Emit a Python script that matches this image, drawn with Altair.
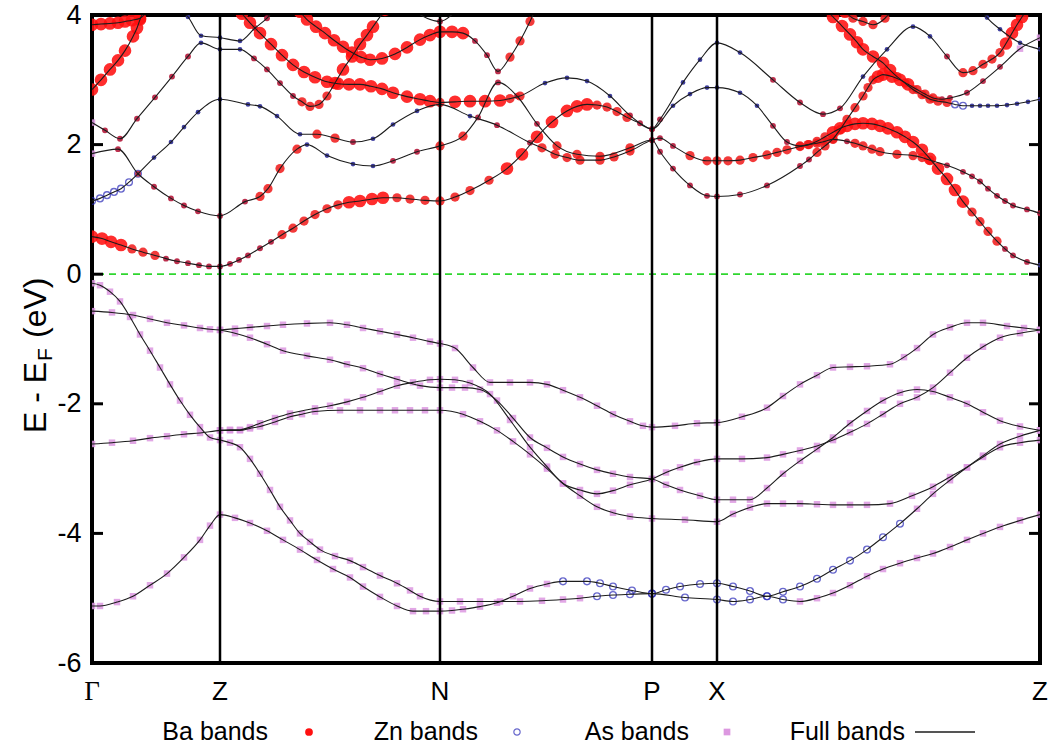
import altair as alt
import pandas as pd

# ---------------- data ----------------
K_POINTS = [0.0, 1.28, 3.48, 5.60, 6.25, 9.48]
K_LABELS = ["Γ", "Z", "N", "P", "X", "Z"]
K_INNER = [1.28, 3.48, 5.60, 6.25]
E_TICKS = [-6, -4, -2, 0, 2, 4]
LEGEND_NAMES = ["Ba bands", "Zn bands", "As bands", "Full bands"]

# each point: (k, E in eV, marker code)
# codes: L big Ba, B medium Ba, b small Ba, Z open Zn circle, z small Zn dot, A As square
VA = [(0.00,-0.14,"A"),(0.08,-0.17,"A"),(0.18,-0.27,"A"),(0.28,-0.42,"A"),(0.38,-0.66,"A"),
      (0.48,-0.93,"A"),(0.58,-1.18,"A"),(0.68,-1.44,"A"),(0.78,-1.70,"A"),(0.88,-1.95,"A"),
      (0.98,-2.17,"A"),(1.08,-2.36,"A"),(1.18,-2.52,"A"),(1.28,-2.56,"A"),(1.38,-2.60,"A"),
      (1.48,-2.67,"A"),(1.58,-2.85,"A"),(1.68,-3.08,"A"),(1.78,-3.33,"A"),(1.88,-3.59,"A"),
      (1.98,-3.80,"A"),(2.08,-4.00,"A"),(2.18,-4.13,"A"),(2.28,-4.25,"A"),(2.43,-4.35,"A"),
      (2.58,-4.42,"A"),(2.71,-4.52,"A"),(2.88,-4.65,"A"),(3.05,-4.77,"A"),(3.18,-4.88,"A"),
      (3.28,-4.97,"A"),(3.48,-5.05,"A"),(3.68,-5.05,"A"),(3.88,-5.05,"A"),(4.08,-5.05,"A"),
      (4.28,-5.05,"A"),(4.50,-5.04,"A"),(4.71,-5.02,"A"),(4.88,-5.00,"A"),(5.05,-4.97,"Z"),
      (5.21,-4.95,"Z"),(5.38,-4.94,"Z"),(5.60,-4.93,"Z"),(5.93,-4.99,"Z"),(6.25,-5.02,"Z"),
      (6.41,-5.05,"Z"),(6.58,-5.02,"Z"),(6.75,-4.97,"Z"),(6.91,-5.02,"Z"),(7.08,-5.05,"A"),
      (7.25,-5.00,"A"),(7.41,-4.92,"A"),(7.58,-4.80,"A"),(7.75,-4.66,"A"),(7.91,-4.55,"A"),
      (8.08,-4.46,"A"),(8.25,-4.38,"A"),(8.41,-4.31,"A"),(8.58,-4.21,"A"),(8.75,-4.10,"A"),
      (8.91,-4.00,"A"),(9.08,-3.90,"A"),(9.28,-3.80,"A"),(9.48,-3.71,"A")]
VD = [(0.00,-5.12,"A"),(0.08,-5.12,"A"),(0.25,-5.06,"A"),(0.41,-4.97,"A"),(0.58,-4.80,"A"),
      (0.75,-4.62,"A"),(0.92,-4.37,"A"),(1.08,-4.10,"A"),(1.18,-3.88,"A"),(1.28,-3.71,"A"),
      (1.43,-3.76,"A"),(1.58,-3.84,"A"),(1.75,-3.96,"A"),(1.91,-4.10,"A"),(2.08,-4.25,"A"),
      (2.25,-4.41,"A"),(2.41,-4.55,"A"),(2.58,-4.68,"A"),(2.71,-4.82,"A"),(2.88,-4.98,"A"),
      (3.05,-5.12,"A"),(3.21,-5.20,"A"),(3.34,-5.20,"A"),(3.48,-5.20,"A"),(3.60,-5.19,"A"),
      (3.71,-5.17,"A"),(3.88,-5.13,"A"),(4.05,-5.07,"A"),(4.21,-4.97,"A"),(4.38,-4.85,"A"),
      (4.55,-4.78,"A"),(4.71,-4.74,"Z"),(4.95,-4.74,"Z"),(5.08,-4.77,"Z"),(5.21,-4.82,"Z"),
      (5.40,-4.88,"Z"),(5.60,-4.93,"Z"),(5.74,-4.87,"Z"),(5.88,-4.82,"Z"),(6.08,-4.78,"Z"),
      (6.25,-4.77,"Z"),(6.41,-4.82,"Z"),(6.58,-4.89,"Z"),(6.75,-4.97,"Z"),(6.91,-4.90,"Z"),
      (7.08,-4.82,"Z"),(7.25,-4.70,"Z"),(7.41,-4.56,"Z"),(7.58,-4.42,"Z"),(7.75,-4.25,"Z"),
      (7.91,-4.06,"Z"),(8.08,-3.85,"Z"),(8.25,-3.62,"A"),(8.41,-3.39,"A"),(8.58,-3.18,"A"),
      (8.75,-2.98,"A"),(8.91,-2.80,"A"),(9.08,-2.62,"A"),(9.28,-2.50,"A"),(9.48,-2.41,"A")]
VB1 = [(0.00,-0.57,"A"),(0.20,-0.59,"A"),(0.41,-0.63,"A"),(0.58,-0.69,"A"),(0.75,-0.75,"A"),
       (0.92,-0.79,"A"),(1.08,-0.83,"A"),(1.18,-0.85,"A"),(1.28,-0.86,"A"),(1.43,-0.84,"A"),
       (1.58,-0.82,"A"),(1.75,-0.80,"A"),(1.91,-0.78,"A"),(2.15,-0.76,"A"),(2.38,-0.75,"A"),
       (2.55,-0.78,"A"),(2.71,-0.83,"A"),(2.88,-0.88,"A"),(3.05,-0.93,"A"),(3.21,-0.98,"A"),
       (3.38,-1.04,"A"),(3.48,-1.07,"A"),(3.63,-1.14,"A"),(3.81,-1.44,"A"),(3.98,-1.67,"A"),
       (4.18,-1.67,"A"),(4.38,-1.67,"A"),(4.55,-1.70,"A"),(4.71,-1.79,"A"),(4.88,-1.90,"A"),
       (5.05,-2.03,"A"),(5.21,-2.16,"A"),(5.38,-2.27,"A"),(5.51,-2.34,"A"),(5.60,-2.36,"A"),
       (5.83,-2.34,"A"),(6.05,-2.30,"A"),(6.25,-2.29,"A"),(6.50,-2.20,"A"),(6.75,-2.06,"A"),
       (6.91,-1.88,"A"),(7.08,-1.70,"A"),(7.25,-1.56,"A"),(7.41,-1.44,"A"),(7.58,-1.43,"A"),
       (7.75,-1.42,"A"),(7.98,-1.39,"A"),(8.12,-1.28,"A"),(8.25,-1.14,"A"),(8.41,-0.93,"A"),
       (8.58,-0.82,"A"),(8.75,-0.75,"A"),(8.91,-0.75,"A"),(9.15,-0.80,"A"),(9.32,-0.83,"A"),
       (9.48,-0.86,"A")]
VB2 = [(1.28,-0.86,"A"),(1.43,-0.91,"A"),(1.58,-0.98,"A"),(1.75,-1.08,"A"),(1.91,-1.18,"A"),
       (2.15,-1.26,"A"),(2.38,-1.32,"A"),(2.55,-1.39,"A"),(2.71,-1.45,"A"),(2.88,-1.54,"A"),
       (3.05,-1.62,"A"),(3.28,-1.72,"A"),(3.48,-1.75,"A"),(3.60,-1.75,"A"),(3.73,-1.75,"A"),
       (3.88,-1.78,"A"),(4.05,-1.95,"A"),(4.21,-2.22,"A"),(4.38,-2.52,"A"),(4.55,-2.68,"A"),
       (4.71,-2.82,"A"),(4.88,-2.93,"A"),(5.05,-3.02,"A"),(5.21,-3.08,"A"),(5.38,-3.13,"A"),
       (5.60,-3.16,"A"),(5.74,-3.25,"A"),(5.88,-3.33,"A"),(6.08,-3.42,"A"),(6.25,-3.48,"A"),
       (6.41,-3.48,"A"),(6.58,-3.48,"A"),(6.75,-3.30,"A"),(6.91,-3.08,"A"),(7.08,-2.88,"A"),
       (7.25,-2.70,"A"),(7.41,-2.52,"A"),(7.58,-2.30,"A"),(7.75,-2.11,"A"),(7.91,-1.95,"A"),
       (8.08,-1.83,"A"),(8.25,-1.78,"A"),(8.41,-1.81,"A"),(8.58,-1.90,"A"),(8.75,-2.00,"A"),
       (8.91,-2.13,"A"),(9.08,-2.26,"A"),(9.28,-2.35,"A"),(9.48,-2.41,"A")]
VC1 = [(0.00,-2.62,"A"),(0.20,-2.60,"A"),(0.41,-2.57,"A"),(0.58,-2.53,"A"),(0.75,-2.50,"A"),
       (0.92,-2.47,"A"),(1.08,-2.45,"A"),(1.28,-2.41,"A"),(1.38,-2.40,"A"),(1.48,-2.40,"A"),
       (1.58,-2.36,"A"),(1.68,-2.30,"A"),(1.83,-2.22,"A"),(1.98,-2.15,"A"),(2.23,-2.07,"A"),
       (2.38,-2.03,"A"),(2.55,-1.97,"A"),(2.71,-1.90,"A"),(2.88,-1.81,"A"),(3.05,-1.72,"A"),
       (3.21,-1.67,"A"),(3.38,-1.63,"A"),(3.48,-1.62,"A"),(3.63,-1.63,"A"),(3.78,-1.68,"A"),
       (3.98,-1.85,"A"),(4.18,-2.25,"A"),(4.38,-2.67,"A"),(4.55,-2.97,"A"),(4.71,-3.23,"A"),
       (4.88,-3.33,"A"),(5.05,-3.39,"A"),(5.21,-3.34,"A"),(5.38,-3.25,"A"),(5.60,-3.16,"A"),
       (5.74,-3.06,"A"),(5.88,-2.98,"A"),(6.05,-2.90,"A"),(6.25,-2.85,"A"),(6.50,-2.85,"A"),
       (6.75,-2.83,"A"),(6.91,-2.78,"A"),(7.08,-2.72,"A"),(7.25,-2.65,"A"),(7.41,-2.56,"A"),
       (7.58,-2.44,"A"),(7.75,-2.31,"A"),(7.91,-2.16,"A"),(8.08,-2.00,"A"),(8.25,-1.90,"A"),
       (8.41,-1.75,"A"),(8.58,-1.52,"A"),(8.75,-1.29,"A"),(8.91,-1.12,"A"),(9.08,-0.98,"A"),
       (9.28,-0.91,"A"),(9.48,-0.86,"A")]
VC2 = [(1.28,-2.41,"A"),(1.38,-2.41,"A"),(1.48,-2.41,"A"),(1.58,-2.38,"A"),(1.68,-2.35,"A"),
       (1.83,-2.28,"A"),(1.98,-2.20,"A"),(2.10,-2.16,"A"),(2.23,-2.12,"A"),(2.48,-2.10,"A"),
       (2.68,-2.10,"A"),(2.88,-2.10,"A"),(3.03,-2.10,"A"),(3.18,-2.10,"A"),(3.33,-2.10,"A"),
       (3.48,-2.10,"A"),(3.71,-2.16,"A"),(3.88,-2.27,"A"),(4.05,-2.41,"A"),(4.21,-2.58,"A"),
       (4.38,-2.78,"A"),(4.55,-3.00,"A"),(4.71,-3.23,"A"),(4.88,-3.42,"A"),(5.05,-3.59,"A"),
       (5.21,-3.68,"A"),(5.38,-3.74,"A"),(5.60,-3.77,"A"),(5.93,-3.79,"A"),(6.25,-3.82,"A"),
       (6.41,-3.70,"A"),(6.58,-3.60,"A"),(6.75,-3.54,"A"),(6.91,-3.54,"A"),(7.08,-3.54,"A"),
       (7.25,-3.55,"A"),(7.41,-3.56,"A"),(7.58,-3.56,"A"),(7.75,-3.56,"A"),(7.98,-3.54,"A"),
       (8.20,-3.42,"A"),(8.41,-3.28,"A"),(8.58,-3.13,"A"),(8.75,-2.98,"A"),(8.91,-2.82,"A"),
       (9.08,-2.67,"A"),(9.28,-2.60,"A"),(9.48,-2.56,"A")]

CB1 = [(0.00,0.58,"L"),(0.10,0.55,"L"),(0.19,0.50,"L"),(0.29,0.45,"L"),(0.40,0.39,"B"),
       (0.51,0.34,"B"),(0.63,0.29,"B"),(0.74,0.24,"b"),(0.85,0.20,"b"),(0.96,0.17,"b"),
       (1.07,0.14,"b"),(1.17,0.12,"b"),(1.28,0.12,"b"),(1.38,0.16,"b"),(1.47,0.22,"b"),
       (1.56,0.29,"b"),(1.68,0.40,"b"),(1.79,0.50,"b"),(1.90,0.61,"B"),(2.01,0.71,"B"),
       (2.12,0.82,"B"),(2.23,0.92,"B"),(2.35,1.01,"B"),(2.46,1.07,"B"),(2.57,1.11,"L"),
       (2.68,1.13,"L"),(2.80,1.16,"L"),(2.91,1.18,"L"),(3.05,1.18,"B"),(3.18,1.16,"B"),
       (3.33,1.14,"B"),(3.48,1.13,"B"),(3.63,1.19,"B"),(3.78,1.29,"B"),(3.97,1.45,"B"),
       (4.15,1.63,"L"),(4.30,1.85,"L"),(4.45,2.12,"L"),(4.60,2.35,"L"),(4.75,2.52,"L"),
       (4.85,2.59,"L"),(4.95,2.62,"L"),(5.05,2.61,"B"),(5.15,2.58,"B"),(5.25,2.51,"B"),
       (5.35,2.42,"B"),(5.48,2.33,"b"),(5.60,2.24,"b"),(5.81,2.60,"z"),(5.98,2.78,"z"),
       (6.15,2.88,"z"),(6.25,2.88,"z"),(6.48,2.80,"z"),(6.65,2.60,"z"),(6.81,2.29,"b"),
       (6.95,2.04,"b"),(7.08,1.98,"B"),(7.17,2.00,"B"),(7.25,2.05,"B"),(7.33,2.12,"B"),
       (7.41,2.19,"L"),(7.48,2.25,"L"),(7.55,2.29,"L"),(7.63,2.32,"L"),(7.71,2.33,"L"),
       (7.80,2.32,"L"),(7.88,2.29,"L"),(7.96,2.25,"L"),(8.05,2.19,"L"),(8.13,2.12,"L"),
       (8.21,2.04,"L"),(8.30,1.92,"L"),(8.38,1.78,"L"),(8.46,1.63,"L"),(8.55,1.47,"L"),
       (8.63,1.30,"L"),(8.71,1.12,"L"),(8.80,0.96,"B"),(8.88,0.81,"B"),(8.96,0.66,"B"),
       (9.05,0.51,"B"),(9.13,0.39,"b"),(9.21,0.29,"b"),(9.35,0.19,"b"),(9.48,0.14,"z")]
CB2 = [(0.00,1.86,"A"),(0.26,1.93,"b"),(0.46,1.55,"b"),(0.62,1.35,"b"),(0.79,1.17,"b"),
       (0.92,1.06,"b"),(1.06,0.97,"b"),(1.28,0.90,"b"),(1.53,1.12,"b"),(1.68,1.20,"B"),
       (1.76,1.32,"B"),(1.88,1.63,"B"),(2.05,1.93,"B"),(2.15,2.00,"z"),(2.35,1.83,"z"),
       (2.61,1.70,"z"),(2.81,1.67,"z"),(3.01,1.75,"b"),(3.25,1.89,"b"),(3.48,1.98,"B"),
       (3.71,2.13,"B"),(3.86,2.42,"b"),(4.06,2.96,"b"),(4.25,2.75,"b"),(4.45,2.32,"b"),
       (4.65,1.98,"B"),(4.85,1.85,"B"),(5.08,1.82,"B"),(5.38,1.95,"B"),(5.60,2.07,"b"),
       (5.68,1.89,"b"),(5.81,1.63,"b"),(5.98,1.37,"b"),(6.15,1.21,"b"),(6.25,1.20,"b"),
       (6.48,1.23,"b"),(6.75,1.37,"b"),(7.08,1.67,"b"),(7.17,1.77,"b"),(7.25,1.88,"B"),
       (7.33,1.98,"B"),(7.41,2.09,"B"),(7.48,2.23,"B"),(7.55,2.39,"B"),(7.63,2.57,"B"),
       (7.71,2.75,"B"),(7.76,2.88,"B"),(7.81,3.00,"B"),(7.86,3.05,"L"),(7.91,3.08,"L"),
       (8.00,3.05,"L"),(8.08,3.00,"L"),(8.16,2.93,"L"),(8.25,2.85,"B"),(8.33,2.78,"B"),
       (8.41,2.72,"B"),(8.50,2.70,"b"),(8.58,2.72,"b"),(8.75,2.80,"b"),(8.91,2.98,"b"),
       (9.08,3.20,"b"),(9.28,3.48,"A"),(9.48,3.65,"A")]
CB3 = [(0.00,1.13,"Z"),(0.08,1.17,"Z"),(0.15,1.22,"Z"),(0.22,1.27,"Z"),(0.29,1.32,"Z"),
       (0.37,1.42,"Z"),(0.46,1.55,"Z"),(0.62,1.80,"z"),(0.79,2.04,"z"),(0.92,2.27,"z"),
       (1.06,2.50,"z"),(1.28,2.70,"z"),(1.56,2.62,"z"),(1.68,2.59,"z"),(1.85,2.44,"z"),
       (2.08,2.16,"z"),(2.25,2.16,"B"),(2.43,2.10,"B"),(2.61,2.04,"b"),(2.81,2.09,"z"),
       (3.01,2.31,"z"),(3.25,2.52,"z"),(3.48,2.62,"z"),(3.78,2.44,"z"),(4.05,2.30,"b"),
       (4.38,2.03,"b"),(4.50,1.95,"B"),(4.63,1.85,"B"),(4.75,1.80,"B"),(4.88,1.76,"B"),
       (5.08,1.76,"B"),(5.22,1.81,"B"),(5.38,1.90,"B"),(5.60,2.07,"b"),(5.68,2.10,"b"),
       (5.81,1.98,"b"),(5.98,1.83,"B"),(6.15,1.75,"B"),(6.25,1.75,"B"),(6.36,1.75,"B"),
       (6.48,1.76,"B"),(6.61,1.80,"B"),(6.75,1.84,"B"),(6.85,1.88,"B"),(6.95,1.92,"B"),
       (7.08,1.97,"B"),(7.16,2.00,"B"),(7.25,2.02,"B"),(7.33,2.05,"B"),(7.41,2.08,"B"),
       (7.55,2.05,"b"),(7.63,2.02,"B"),(7.71,1.98,"B"),(7.80,1.93,"B"),(7.88,1.89,"B"),
       (8.05,1.85,"B"),(8.21,1.83,"B"),(8.30,1.80,"B"),(8.38,1.76,"B"),(8.55,1.68,"b"),
       (8.71,1.58,"b"),(8.80,1.51,"b"),(8.88,1.43,"b"),(8.96,1.32,"b"),(9.05,1.21,"b"),
       (9.13,1.13,"b"),(9.21,1.06,"b"),(9.35,1.00,"b"),(9.48,0.94,"b")]
CB4 = [(0.00,2.34,"A"),(0.13,2.22,"b"),(0.28,2.09,"b"),(0.45,2.40,"b"),(0.63,2.73,"b"),
       (0.80,3.05,"b"),(0.96,3.36,"b"),(1.09,3.57,"z"),(1.28,3.47,"z"),(1.48,3.47,"z"),
       (1.62,3.33,"b"),(1.75,3.16,"b"),(1.88,2.95,"b"),(2.01,2.75,"b"),(2.10,2.66,"B"),
       (2.18,2.59,"B"),(2.27,2.62,"B"),(2.35,2.75,"B"),(2.43,2.95,"L"),(2.51,3.16,"L"),
       (2.60,3.36,"L"),(2.68,3.55,"L"),(2.75,3.69,"L"),(2.81,3.82,"L"),(2.93,4.08,"L")]
CB5 = [(0.00,2.85,"L"),(0.09,3.00,"L"),(0.18,3.16,"L"),(0.26,3.30,"L"),(0.33,3.45,"L"),
       (0.41,3.67,"L"),(0.45,3.80,"L"),(0.48,3.93,"L"),(0.53,4.10,"L")]
CB6 = [(0.00,3.85,"L"),(0.09,3.86,"L"),(0.18,3.87,"L"),(0.26,3.88,"L"),(0.33,3.90,"L"),
       (0.40,3.92,"L"),(0.48,3.95,"L"),(0.58,4.10,"L")]
CB7 = [(0.83,4.15,"z"),(0.96,3.97,"z"),(1.09,3.68,"z"),(1.28,3.65,"z"),(1.48,3.60,"z"),
       (1.63,3.80,"b"),(1.75,3.95,"b"),(1.83,4.10,"b")]
CB8 = [(1.43,4.15,"L"),(1.50,4.02,"L"),(1.58,3.88,"L"),(1.68,3.72,"L"),(1.79,3.55,"L"),
       (1.90,3.38,"L"),(2.01,3.23,"L"),(2.12,3.12,"L"),(2.23,3.04,"L"),(2.35,2.97,"L"),
       (2.46,2.94,"L"),(2.57,2.93,"L"),(2.68,2.93,"L"),(2.79,2.90,"L"),(2.90,2.86,"L"),
       (3.01,2.80,"L"),(3.15,2.74,"L"),(3.28,2.70,"L"),(3.38,2.67,"L"),(3.48,2.65,"B"),
       (3.63,2.66,"L"),(3.78,2.67,"L"),(3.93,2.67,"L"),(4.08,2.68,"L"),(4.18,2.71,"B"),
       (4.28,2.75,"B"),(4.53,2.95,"z"),(4.75,3.03,"z"),(4.95,2.98,"z"),(5.18,2.75,"z"),
       (5.38,2.45,"b"),(5.60,2.24,"b"),(5.68,2.39,"b"),(5.91,2.96,"z"),(6.08,3.31,"z"),
       (6.25,3.57,"z"),(6.48,3.42,"z"),(6.81,3.00,"b"),(7.08,2.65,"b"),(7.31,2.47,"b"),
       (7.48,2.56,"b"),(7.71,3.05,"z"),(7.95,3.47,"z"),(8.21,3.82,"z"),(8.38,3.67,"z"),
       (8.55,3.36,"b"),(8.71,3.11,"B"),(8.81,3.14,"B"),(8.91,3.24,"B"),(9.00,3.32,"B"),
       (9.08,3.42,"B"),(9.14,3.56,"L"),(9.20,3.72,"L"),(9.25,3.85,"L"),(9.30,3.97,"L"),
       (9.38,4.15,"L")]
CB9 = [(2.08,4.05,"L"),(2.15,3.93,"L"),(2.24,3.82,"L"),(2.33,3.72,"L"),(2.42,3.61,"L"),
       (2.51,3.51,"L"),(2.60,3.42,"L"),(2.69,3.35,"L"),(2.78,3.31,"L"),(2.90,3.33,"L"),
       (3.03,3.40,"L"),(3.15,3.50,"L"),(3.28,3.62,"L"),(3.38,3.69,"L"),(3.48,3.74,"L"),
       (3.60,3.74,"L"),(3.71,3.72,"L"),(3.83,3.60,"b"),(3.95,3.38,"b"),(4.06,3.13,"b"),
       (4.18,3.35,"B"),(4.28,3.60,"B"),(4.38,3.90,"B"),(4.44,4.10,"B")]
CB10 = [(7.33,4.10,"L"),(7.41,3.97,"L"),(7.50,3.83,"L"),(7.58,3.70,"L"),(7.65,3.58,"L"),
        (7.71,3.47,"L"),(7.81,3.36,"L"),(7.91,3.26,"L"),(7.98,3.15,"L"),(8.05,3.05,"B"),
        (8.13,2.95,"B"),(8.21,2.85,"B"),(8.30,2.77,"B"),(8.38,2.70,"B"),(8.46,2.67,"B"),
        (8.55,2.65,"B"),(8.63,2.62,"Z"),(8.71,2.60,"Z"),(8.80,2.60,"z"),(8.88,2.60,"z"),
        (8.96,2.60,"z"),(9.05,2.60,"z"),(9.15,2.61,"z"),(9.25,2.63,"z"),(9.36,2.66,"z"),
        (9.48,2.70,"z")]
CB11 = [(8.88,4.10,"z"),(8.95,3.96,"z"),(9.08,3.78,"z"),(9.28,3.57,"z"),(9.48,3.47,"z")]
CB12 = [(7.53,4.05,"L"),(7.61,3.95,"B"),(7.71,3.90,"B"),(7.81,3.85,"B"),(7.93,3.95,"B"),
        (8.01,4.10,"B")]
CB13 = [(3.23,4.05,"b"),(3.48,3.90,"b"),(3.63,4.05,"b")]

BANDS = {"VA": VA, "VD": VD, "VB1": VB1, "VB2": VB2, "VC1": VC1, "VC2": VC2,
         "CB1": CB1, "CB2": CB2, "CB3": CB3, "CB4": CB4, "CB5": CB5, "CB6": CB6,
         "CB7": CB7, "CB8": CB8, "CB9": CB9, "CB10": CB10, "CB11": CB11,
         "CB12": CB12, "CB13": CB13}

rows = []
for name, pts in BANDS.items():
    for i, (k, e, c) in enumerate(sorted(pts, key=lambda p: p[0])):
        rows.append({"band": name, "k": k, "E": e, "code": c, "order": i})
df = pd.DataFrame(rows)

# ---------------- chart ----------------
W, H = 948, 648
FONT = "Liberation Sans"

xs = alt.Scale(domain=[0, 9.48], nice=False, zero=False)
ys = alt.Scale(domain=[-6, 4], nice=False, zero=False)
X = alt.X("k:Q", scale=xs, axis=None)
Y = alt.Y("E:Q", scale=ys, axis=alt.Axis(
    values=E_TICKS, labelFont=FONT, labelFontSize=27, labelColor="black", ticks=False,
    domain=False, grid=False, labelPadding=11, title=None,
    labelExpr="datum.value < 0 ? '-' + (-datum.value) : '' + datum.value"))

base = alt.Chart(df)

marker_styles = {
    "A": dict(mark="square", size=42, color="#dc98e0", opacity=0.85),
    "Z": dict(mark="ring", size=46, color="#2a2ab8", opacity=1.0),
    "z": dict(mark="circle", size=22, color="#35359a", opacity=0.95),
    "b": dict(mark="circle", size=34, color="#b4183a", opacity=0.9),
    "B": dict(mark="circle", size=85, color="#f01818", opacity=0.85),
    "L": dict(mark="circle", size=160, color="#ff1010", opacity=0.88),
}

layers = []

fermi = alt.Chart(pd.DataFrame({"E": [0]})).mark_rule(
    color="#2fd62f", strokeWidth=1.8, strokeDash=[7, 5]).encode(y=Y)
layers.append(fermi)

for code in ["A", "Z", "z", "b", "B", "L"]:
    st = marker_styles[code]
    sub = base.transform_filter(alt.datum.code == code)
    if st["mark"] == "square":
        m = sub.mark_square(size=st["size"], color=st["color"], opacity=st["opacity"], clip=True)
    elif st["mark"] == "ring":
        m = sub.mark_point(shape="circle", filled=False, size=st["size"], color=st["color"],
                           strokeWidth=1.3, clip=True)
    else:
        m = sub.mark_circle(size=st["size"], color=st["color"], opacity=st["opacity"], clip=True)
    layers.append(m.encode(x=X, y=Y))

lines = base.mark_line(interpolate="monotone", color="#1c1c1c", strokeWidth=1.1, clip=True).encode(
    x=X, y=Y, detail="band:N", order=alt.Order("order:Q"))
layers.append(lines)

vlines = alt.Chart(pd.DataFrame({"k": K_INNER})).mark_rule(color="black", strokeWidth=2.5).encode(x=X)
layers.append(vlines)

tick_df = pd.DataFrame({"E": E_TICKS})
layers.append(alt.Chart(tick_df).mark_rule(color="black", strokeWidth=3).encode(
    y=Y, x=alt.value(0), x2=alt.value(11)))
layers.append(alt.Chart(tick_df).mark_rule(color="black", strokeWidth=3).encode(
    y=Y, x=alt.value(W - 11), x2=alt.value(W)))

klab = pd.DataFrame({"k": K_POINTS, "lab": K_LABELS})
layers.append(alt.Chart(klab).transform_filter(alt.datum.lab != "Γ").mark_text(
    font=FONT, fontSize=26, baseline="middle", align="center", color="black").encode(
    x=X, y=alt.value(H + 29), text="lab:N"))
layers.append(alt.Chart(klab).transform_filter(alt.datum.lab == "Γ").mark_text(
    font="Liberation Serif", fontSize=27, baseline="middle", align="center", color="black").encode(
    x=X, y=alt.value(H + 29), text="lab:N"))

# y title: E - E_F (eV)
TITLE_PARTS = ["E - E", "F", "(eV)"]
layers.append(alt.Chart(pd.DataFrame({"t": [TITLE_PARTS[0]]})).mark_text(
    font=FONT, fontSize=32, angle=270, align="left", baseline="alphabetic", color="black").encode(
    text="t:N", x=alt.value(-46), y=alt.value(418)))
layers.append(alt.Chart(pd.DataFrame({"t": [TITLE_PARTS[1]]})).mark_text(
    font=FONT, fontSize=21, angle=270, align="left", baseline="alphabetic", color="black").encode(
    text="t:N", x=alt.value(-40), y=alt.value(346)))
layers.append(alt.Chart(pd.DataFrame({"t": [TITLE_PARTS[2]]})).mark_text(
    font=FONT, fontSize=32, angle=270, align="left", baseline="alphabetic", color="black").encode(
    text="t:N", x=alt.value(-46), y=alt.value(323)))

# legend at bottom
LY = H + 69
leg_text_right = [176, 386, 597, 813]
for name, xr in zip(LEGEND_NAMES, leg_text_right):
    layers.append(alt.Chart(pd.DataFrame({"t": [name]})).mark_text(
        font=FONT, fontSize=25, align="right", baseline="middle", color="black").encode(
        text="t:N", x=alt.value(xr), y=alt.value(LY)))
one = pd.DataFrame({"t": [1]})
layers.append(alt.Chart(one).mark_circle(size=60, color="#ff1010", opacity=1).encode(
    x=alt.value(217), y=alt.value(LY)))
layers.append(alt.Chart(one).mark_point(shape="circle", filled=False, size=40, color="#2a2ab8",
                                        strokeWidth=1.2).encode(x=alt.value(425), y=alt.value(LY)))
layers.append(alt.Chart(one).mark_square(size=45, color="#dc98e0", opacity=1).encode(
    x=alt.value(635), y=alt.value(LY)))
layers.append(alt.Chart(one).mark_rule(color="#1c1c1c", strokeWidth=1.3).encode(
    x=alt.value(823), x2=alt.value(883), y=alt.value(LY)))

chart = alt.layer(*layers).properties(
    width=W, height=H,
    padding={"left": 92, "top": 15, "right": 11, "bottom": 83},
    autosize=alt.AutoSizeParams(type="none"),
    background="white",
).configure_view(stroke="black", strokeWidth=4)

chart.save("out.html", embed_options={"renderer": "svg", "actions": False})
